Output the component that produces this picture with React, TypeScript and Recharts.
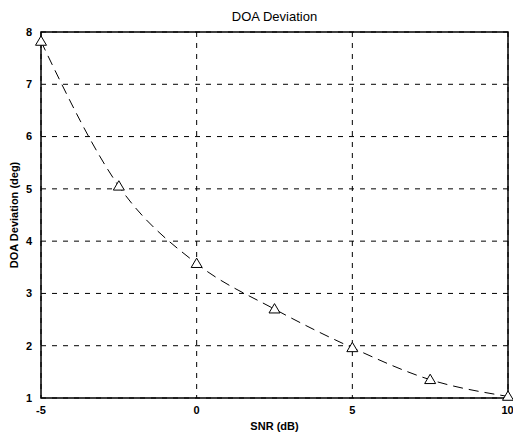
import React from "react";
import {
  LineChart,
  Line,
  XAxis,
  YAxis,
  CartesianGrid,
  ReferenceArea,
} from "recharts";

const snr = [-5, -2.5, 0, 2.5, 5, 7.5, 10];
const deviation = [7.82, 5.05, 3.57, 2.7, 1.96, 1.35, 1.03];
const xTicks = [-5, 0, 5, 10];
const yTicks = [1, 2, 3, 4, 5, 6, 7, 8];

const data = snr.map((x, i) => ({ snr: x, dev: deviation[i] }));

const font = "'Liberation Sans', Arial, sans-serif";

const Triangle = (props: any) => {
  const { cx, cy } = props;
  if (cx == null || cy == null) return null;
  const s = 5.5;
  return (
    <polygon
      points={`${cx},${cy - s} ${cx - s},${cy + s * 0.7} ${cx + s},${cy + s * 0.7}`}
      fill="white"
      stroke="black"
      strokeWidth={1}
    />
  );
};

export default function App() {
  return (
    <div style={{ position: "absolute", left: 0, top: 0, width: 513, height: 436, background: "white" }}>
      <div
        style={{
          position: "absolute",
          top: 9,
          left: 0,
          width: 513,
          textAlign: "center",
          paddingLeft: 36,
          boxSizing: "border-box",
          fontFamily: font,
          fontSize: 13,
          color: "#000",
        }}
      >
        DOA Deviation
      </div>
      <LineChart
        width={513}
        height={436}
        data={data}
        margin={{ top: 32, right: 5, bottom: 0, left: 0 }}
      >
        <CartesianGrid stroke="#000" strokeDasharray="5 6" strokeWidth={1} />
        <XAxis
          dataKey="snr"
          type="number"
          domain={[-5, 10]}
          ticks={xTicks}
          height={38}
          axisLine={false}
          tickLine={false}
          tick={{ fill: "#000", fontSize: 11, fontWeight: "bold", fontFamily: font }}
          tickMargin={2}
          label={{
            value: "SNR (dB)",
            position: "insideBottom",
            offset: 6,
            fill: "#000",
            fontSize: 11,
            fontWeight: "bold",
            fontFamily: font,
          }}
        />
        <YAxis
          type="number"
          domain={[1, 8]}
          ticks={yTicks}
          width={41}
          axisLine={false}
          tickLine={false}
          tick={{ fill: "#000", fontSize: 11, fontWeight: "bold", fontFamily: font }}
          tickMargin={3}
          label={{
            value: "DOA Deviation (deg)",
            angle: -90,
            position: "insideLeft",
            offset: 14,
            style: { textAnchor: "middle" },
            fill: "#000",
            fontSize: 11,
            fontWeight: "bold",
            fontFamily: font,
          }}
        />
        <ReferenceArea
          x1={-5}
          x2={10}
          y1={1}
          y2={8}
          fill="none"
          fillOpacity={0}
          stroke="#000"
          strokeWidth={1.5}
          ifOverflow="visible"
        />
        <Line
          dataKey="dev"
          type="monotone"
          stroke="#000"
          strokeWidth={1}
          strokeDasharray="10 6"
          dot={<Triangle />}
          isAnimationActive={false}
        />
      </LineChart>
    </div>
  );
}
